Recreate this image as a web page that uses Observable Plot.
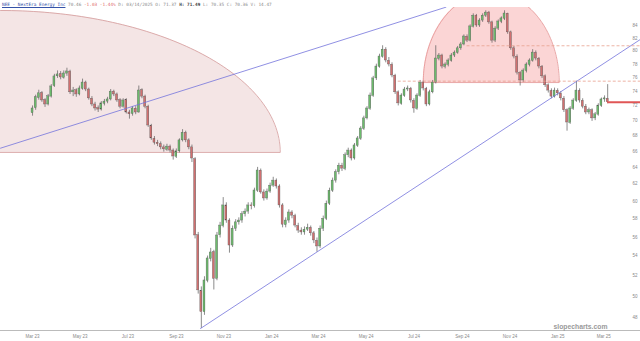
<!DOCTYPE html>
<html><head><meta charset="utf-8">
<script src="https://cdn.jsdelivr.net/npm/d3@7"></script>
<script src="https://cdn.jsdelivr.net/npm/@observablehq/plot@0.6"></script>
<style>
body{margin:0;background:#fff;}
#wrap{position:relative;width:640px;height:341px;overflow:hidden;background:#fff;}
#hdr{position:absolute;left:2px;top:2px;font-family:"DejaVu Sans Mono",monospace;font-size:4.4px;line-height:6px;color:#8a8a8a;white-space:pre;}
#hdr .sym{color:#3552a8;text-decoration:underline;}
#hdr .neg{color:#e06a6a;}
#hdr b{color:#444;}
</style></head><body>
<div id="wrap"><div id="chart"></div><div id="hdr"></div></div>
<script>
// ---- candle data (one bar every 4 calendar days starting 2023-03-01) ----
const firstBar = "2023-03-01";
const barStepDays = 4;
const open = [71.0,71.7,73.1,73.8,72.8,72.2,73.3,74.8,76.2,76.5,
76.0,76.6,76.9,73.9,74.2,73.6,74.4,75.3,74.3,73.0,
72.2,71.7,71.5,72.3,72.6,72.9,74.0,73.6,72.8,71.9,
72.8,71.1,70.9,71.6,71.1,74.2,73.3,71.9,69.3,67.6,
67.1,66.9,66.5,66.2,66.6,66.1,65.3,66.0,67.4,68.4,
67.4,66.5,65.0,56.2,50.5,48.5,51.5,53.7,54.4,51.7,
56.2,57.2,59.5,57.8,55.1,56.9,57.6,57.8,58.5,58.8,
59.5,59.4,61.2,63.6,61.0,60.3,61.1,61.8,62.4,61.7,
59.5,57.3,57.8,58.7,58.3,57.2,56.7,56.5,56.8,57.0,
56.4,55.6,55.0,56.9,58.0,59.7,61.2,62.4,63.4,64.2,
63.8,65.5,66.1,65.1,66.7,67.6,68.9,70.3,71.6,73.4,
75.9,77.6,79.1,80.2,78.5,77.9,76.3,73.9,72.3,73.4,
74.3,74.4,72.7,71.6,73.4,75.3,74.4,72.2,73.9,75.3,
78.8,79.3,77.6,77.9,78.5,79.3,79.7,80.4,81.0,82.2,
81.6,83.8,85.6,84.0,84.8,85.6,86.1,84.5,81.6,83.5,
84.6,85.1,85.9,82.9,80.4,79.1,76.7,75.6,77.0,77.9,
78.5,79.7,78.8,77.6,76.2,74.9,74.1,73.3,74.1,73.7,
73.0,71.4,69.7,71.6,72.7,74.1,72.7,71.9,71.1,71.4,
70.3,70.8,72.0,72.9,73.0];
const high = [72.0,73.5,74.2,74.0,73.0,73.6,75.0,76.5,77.0,76.9,
77.0,77.4,77.1,74.6,74.4,74.8,75.8,75.5,74.5,73.3,
72.5,72.0,72.6,72.9,73.2,74.3,74.2,73.8,73.0,73.0,
73.0,71.4,71.9,71.9,74.8,74.4,73.5,72.1,69.5,67.9,
67.4,67.2,66.8,66.9,66.8,66.3,66.3,67.6,68.8,68.6,
67.6,66.8,65.2,56.5,50.9,51.9,54.0,54.8,54.6,56.5,
57.6,60.4,59.8,58.0,57.2,57.9,58.1,58.8,59.1,59.8,
59.8,61.5,64.0,63.8,61.3,61.4,62.1,62.8,62.6,61.9,
59.7,58.1,59.0,58.9,58.5,57.5,57.0,57.1,57.4,57.2,
56.6,55.9,57.2,58.3,60.0,61.5,62.7,63.7,64.5,64.5,
65.8,66.4,66.3,67.0,67.9,69.2,70.6,71.9,73.8,76.2,
78.0,79.5,80.8,80.5,79.0,78.2,76.5,74.1,73.7,74.6,
74.8,74.6,73.0,73.7,75.6,75.5,74.6,74.2,75.6,80.8,
79.6,79.5,78.2,78.8,79.6,80.0,80.7,81.3,82.5,82.5,
84.1,85.9,85.8,85.1,85.9,86.4,86.3,84.7,83.8,84.9,
85.4,86.4,86.0,83.1,80.7,79.4,76.9,77.3,78.2,78.8,
80.2,80.0,79.0,77.8,76.4,75.1,74.4,74.5,74.4,74.0,
73.3,71.6,71.9,73.0,75.5,74.4,73.0,72.2,71.7,71.6,
71.1,72.3,73.1,73.4,75.0];
const low = [70.6,71.4,72.8,72.5,71.8,72.0,73.1,74.6,75.9,75.7,
75.8,76.2,73.6,73.3,73.2,73.4,74.2,74.0,72.8,71.9,
71.3,71.1,71.3,72.0,72.3,72.7,73.3,72.5,71.6,71.7,
70.9,70.2,70.6,70.8,71.0,73.0,71.6,69.1,67.4,66.8,
66.6,66.2,65.9,66.0,65.8,64.9,65.1,65.8,67.2,67.1,
66.2,64.6,55.8,50.2,47.0,48.2,51.3,53.4,50.6,51.5,
55.9,57.0,57.5,54.3,54.9,56.6,57.3,57.5,58.2,58.5,
59.0,59.2,61.0,60.8,60.0,60.1,60.9,61.6,61.4,59.2,
57.0,57.0,57.5,58.0,57.0,56.4,56.2,56.2,56.6,56.1,
55.3,54.4,54.8,56.6,57.8,59.5,61.0,62.1,63.1,63.5,
63.6,65.2,64.8,64.9,66.5,67.4,68.7,70.1,71.4,73.2,
75.6,77.4,78.9,78.2,77.6,76.0,73.6,72.0,72.1,73.2,
74.0,72.4,71.0,71.4,73.2,74.1,71.9,72.0,73.7,75.1,
78.5,77.3,77.3,77.6,78.3,79.0,79.5,80.1,80.8,81.3,
81.4,83.6,83.7,83.7,84.5,85.3,84.2,81.2,81.3,83.2,
84.3,84.8,82.6,80.1,78.8,76.4,74.8,75.3,76.7,77.6,
78.3,78.5,77.3,75.9,74.6,73.8,73.0,73.1,73.4,72.7,
71.1,68.6,69.5,71.4,72.5,72.4,71.6,70.8,70.8,69.9,
70.0,70.6,71.8,72.5,72.3];
const close = [71.65,73.2,73.76,72.76,72.2,73.34,74.74,76.19,76.48,76.04,
76.62,76.92,73.9,74.16,73.6,74.45,75.3,74.3,73.05,72.2,
71.65,71.5,72.35,72.6,72.9,74.0,73.6,72.76,71.9,72.76,
71.1,70.85,71.65,71.1,74.16,73.3,71.9,69.35,67.65,67.1,
66.9,66.5,66.25,66.6,66.1,65.35,66.0,67.4,68.4,67.4,
66.5,65.1,56.17,50.56,48.5,51.53,53.75,54.37,51.7,56.17,
57.25,59.5,57.8,55.1,56.9,57.6,57.8,58.5,58.8,59.5,
59.4,61.23,63.62,61.0,60.3,61.1,61.8,62.4,61.7,59.5,
57.35,57.8,58.7,58.35,57.25,56.7,56.5,56.8,57.0,56.4,
55.64,55.0,56.9,58.0,59.7,61.2,62.4,63.4,64.2,63.85,
65.5,66.1,65.1,66.75,67.65,68.95,70.3,71.65,73.45,75.9,
77.65,79.15,80.2,78.55,77.95,76.33,73.9,72.35,73.45,74.3,
74.45,72.76,71.65,73.45,75.3,74.45,72.2,73.9,75.3,78.85,
79.3,77.65,77.95,78.55,79.3,79.75,80.4,81.0,82.25,81.6,
83.85,85.6,84.0,84.8,85.6,86.1,84.5,81.6,83.5,84.65,
85.15,85.95,82.9,80.4,79.15,76.75,75.6,77.05,77.95,78.55,
79.75,78.85,77.65,76.2,74.9,74.15,73.3,74.15,73.75,73.05,
71.4,69.75,71.65,72.75,74.15,72.75,71.9,71.1,71.4,70.3,
70.85,72.05,72.9,73.05,72.5];

// ---- axes ----
const xDomain = ["2023-01-19", "2025-04-17"];
const yTicks = [48,50,52,54,56,58,60,62,64,66,68,70,72,74,76,78,80,82,84];
const xTickDates = ["2023-03-01","2023-05-01","2023-07-01","2023-09-01","2023-11-01","2024-01-01","2024-03-01","2024-05-01","2024-07-01","2024-09-01","2024-11-01","2025-01-01","2025-03-01"];

// ---- annotations (date, price) ----
const trendStart = ["2023-01-19", "2023-10-02"];
const trendStartPrice = [66.4, 47.0];
const trendEnd = ["2024-08-11", "2025-04-17"];
const trendEndPrice = [87.0, 81.8];
// half ellipses: center date, right edge date, base price, top price
const arcCenter = ["2023-01-19", "2024-10-08"];
const arcRight = ["2024-01-12", "2025-01-03"];
const arcBase = [65.86, 75.3];
const arcTop = [86.45, 89.5];
const dashLevels = [75.5, 80.8];
const dashStart = ["2024-06-11", "2024-09-07"];
const lastPrice = 72.5;
const lastPriceStart = "2025-03-06";

const header = {sym:"NEE - NextEra Energy Inc", last:"70.46", chg:"-1.03", pct:"-1.44%", date:"03/14/2025", o:"71.37", h:"71.49", l:"70.35", c:"70.36", v:"14.47"};

// ---- build ----
const D = s => new Date(s + "T00:00:00Z");
const x0 = D(firstBar);
const bars = close.map((c, i) => ({date: d3.utcDay.offset(x0, i * barStepDays), o: open[i], h: high[i], l: low[i], c}));
const xEnd = D(xDomain[1]);

function halfEllipse(k) {
  const c = +D(arcCenter[k]), r = +D(arcRight[k]);
  const lb = Math.log(arcBase[k]), lt = Math.log(arcTop[k]);
  const pts = [];
  const n = 160;
  for (let j = 0; j <= n; j++) {
    const t = Math.PI * (1 - j / n);
    pts.push({x: new Date(c + (r - c) * Math.cos(t)), y: Math.exp(lb + (lt - lb) * Math.sin(t))});
  }
  return pts;
}
const arcs = [0, 1].map(halfEllipse);
const trends = trendStart.map((s, k) => [{x: D(s), y: trendStartPrice[k]}, {x: D(trendEnd[k]), y: trendEndPrice[k]}]);
const dashes = dashLevels.map((v, k) => ({y: v, x1: D(dashStart[k]), x2: xEnd}));
const arcFill = ["#f4e5e5", "#fbd5d5"];
const arcStroke = ["#d49a9a", "#e39191"];

const marks = [];
arcs.forEach((pts, k) => {
  marks.push(Plot.areaY(pts, {x: "x", y1: arcBase[k], y2: "y", fill: arcFill[k], curve: "linear", clip: true}));
  marks.push(Plot.line([...pts, pts[0]], {x: "x", y: "y", stroke: arcStroke[k], strokeWidth: 0.8, clip: true}));
});
marks.push(
  Plot.ruleX(bars, {x: "date", y1: "l", y2: "h", stroke: "#5a5a5a", strokeWidth: 0.7}),
  Plot.rect(bars, {x1: d => d3.utcHour.offset(d.date, -30), x2: d => d3.utcHour.offset(d.date, 30), y1: "o", y2: "c",
    fill: d => d.c >= d.o ? "#6cbc6c" : "#d27070", stroke: "#555", strokeWidth: 0.35})
);
trends.forEach(t => marks.push(Plot.line(t, {x: "x", y: "y", stroke: "#7474dc", strokeWidth: 0.8, clip: true})));
marks.push(
  Plot.ruleY(dashes, {y: "y", x1: "x1", x2: "x2", stroke: "#e9a08e", strokeWidth: 0.8, strokeDasharray: "3,2"}),
  Plot.ruleY([{y: lastPrice, x1: D(lastPriceStart), x2: xEnd}], {y: "y", x1: "x1", x2: "x2", stroke: "#e05656", strokeWidth: 2}),
  Plot.frame({anchor: "bottom", stroke: "#bbb"}),
  Plot.axisX({ticks: xTickDates.map(D), tickFormat: d3.utcFormat("%b %y"), tickSize: 0, tickPadding: 4, fontSize: 4.5, fill: "#888", label: null}),
  Plot.text(yTicks, {y: d => d, text: d => String(d), frameAnchor: "right", dx: -3, textAnchor: "end", fontSize: 4.5, fill: "#888"}),
  Plot.text(["slopecharts.com"], {text: d => d, frameAnchor: "bottom-right", dx: -33, dy: -2, textAnchor: "end", lineAnchor: "bottom", fontSize: 6.8, fontWeight: "bold", fill: "#9a9a9a"})
);

const chart = Plot.plot({
  width: 640, height: 341,
  marginTop: 7, marginBottom: 11, marginLeft: 0, marginRight: 0,
  style: {fontFamily: "'Liberation Sans', Arial, sans-serif", background: "#fff"},
  x: {type: "utc", domain: xDomain.map(D), range: [0, 640], axis: null},
  y: {type: "log", domain: [48, 84], range: [317, 25], axis: null},
  color: {type: "identity"},
  marks
});
document.getElementById("chart").appendChild(chart);

const h = header;
document.getElementById("hdr").innerHTML =
  `<span class="sym">${h.sym}</span> ${h.last} <span class="neg">${h.chg} ${h.pct}</span> D: ${h.date} O: ${h.o} <b>H: ${h.h}</b> L: ${h.l} C: ${h.c} V: ${h.v}`;
</script>
</body></html>
